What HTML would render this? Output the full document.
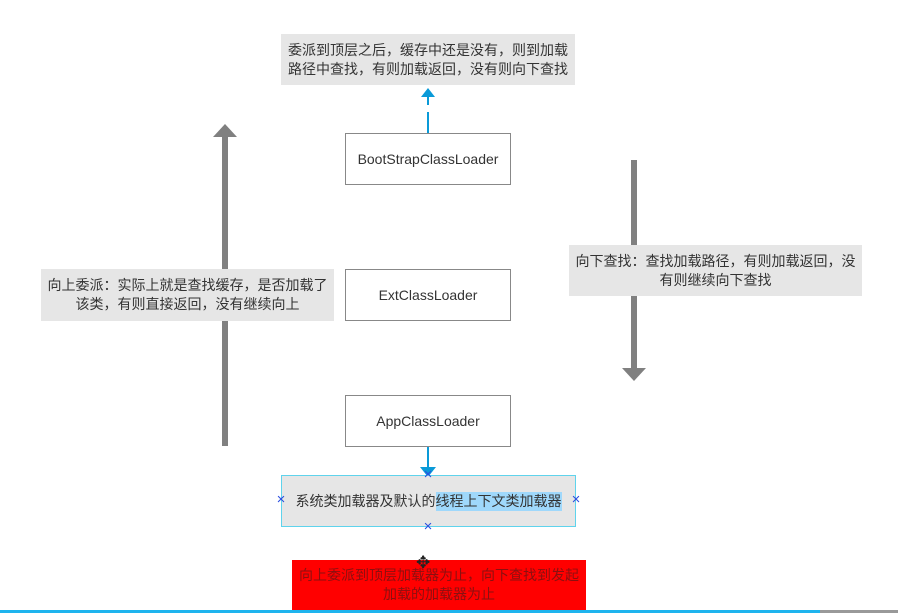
<!DOCTYPE html>
<html><head><meta charset="utf-8"><style>
body{margin:0;width:898px;height:613px;background:#fff;position:relative;overflow:hidden;font-family:"Liberation Sans","Noto Sans CJK SC",sans-serif;}
.b{position:absolute;box-sizing:border-box;display:flex;align-items:center;justify-content:center;text-align:center;font-size:14px;color:#333;line-height:19px;}
.g{background:#e6e6e6;}
.w{background:#fff;border:1px solid #888;color:#333;}
.x{position:absolute;width:14px;height:14px;line-height:14px;text-align:center;color:#2b4ee0;font-size:15px;}
</style></head><body>
<svg width="898" height="613" style="position:absolute;left:0;top:0">
<rect x="222" y="136" width="6" height="310" fill="#808080"/>
<polygon points="213,137 237,137 225,124" fill="#808080"/>
<rect x="631" y="160" width="6" height="210" fill="#808080"/>
<polygon points="622,368 646,368 634,381" fill="#808080"/>
<line x1="428" y1="112" x2="428" y2="133" stroke="#0a9ad8" stroke-width="2"/>
<line x1="428" y1="92" x2="428" y2="105" stroke="#0a9ad8" stroke-width="2"/>
<polygon points="421,97 435,97 428,88" fill="#0a9ad8"/>
<line x1="428" y1="446" x2="428" y2="468" stroke="#0a9ad8" stroke-width="2"/>
<polygon points="420,467 436,467 428,477" fill="#0a9ad8"/>
<rect x="0" y="610" width="820" height="3" fill="#1eb4ee"/>
<rect x="820" y="610" width="78" height="3" fill="#999"/>
</svg>
<div class="b g" style="left:281px;top:34px;width:294px;height:51px;">委派到顶层之后，缓存中还是没有，则到加载<br>路径中查找，有则加载返回，没有则向下查找</div>
<div class="b w" style="left:345px;top:133px;width:166px;height:52px;">BootStrapClassLoader</div>
<div class="b w" style="left:345px;top:269px;width:166px;height:52px;">ExtClassLoader</div>
<div class="b w" style="left:345px;top:395px;width:166px;height:52px;">AppClassLoader</div>
<div class="b g" style="left:41px;top:269px;width:293px;height:52px;">向上委派：实际上就是查找缓存，是否加载了<br>该类，有则直接返回，没有继续向上</div>
<div class="b g" style="left:569px;top:245px;width:293px;height:51px;">向下查找：查找加载路径，有则加载返回，没<br>有则继续向下查找</div>
<div class="b g" style="left:281px;top:475px;width:295px;height:52px;border:1px solid #5fd3ec;">系统类加载器及默认的<span style="background:#9fd8fb">线程上下文类加载器</span></div>
<div class="x" style="left:274px;top:493px;">×</div>
<div class="x" style="left:569px;top:493px;">×</div>
<div class="x" style="left:421px;top:468px;">×</div>
<div class="x" style="left:421px;top:520px;">×</div>
<div class="b" style="left:292px;top:560px;width:294px;height:50px;background:#ff0000;color:#8a1010;">向上委派到顶层加载器为止，向下查找到发起<br>加载的加载器为止</div>
<div style="position:absolute;left:416px;top:553px;font-size:17px;color:#222">✥</div>
</body></html>
